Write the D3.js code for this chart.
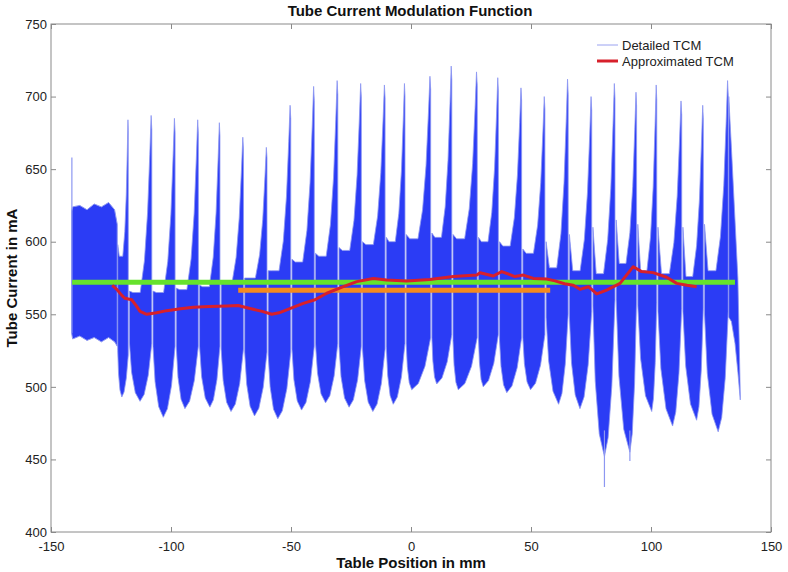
<!DOCTYPE html>
<html><head><meta charset="utf-8">
<script src="https://cdn.jsdelivr.net/npm/d3@7/dist/d3.min.js"></script>
<style>body{margin:0;background:#fff}svg{display:block}</style>
</head><body>
<svg id="c" width="788" height="572"></svg>
<script>
// ---------- data ----------
const xTicks = [-150, -100, -50, 0, 50, 100, 150];
const xTickLabels = ["-150", "-100", "-50", "0", "50", "100", "150"];
const yTicks = [400, 450, 500, 550, 600, 650, 700, 750];
const yTickLabels = ["400", "450", "500", "550", "600", "650", "700", "750"];

// Detailed TCM: initial dense band (envelope)
const headX     = [-141.4, -141.0, -138.0, -135.0, -132.0, -129.0, -126.0, -123.5, -122.4];
const headUpper = [621, 624, 625, 622, 626, 624, 627, 622, 612];
const headLower = [537, 533, 535, 532, 534, 531, 534, 531, 528];

// Detailed TCM: modulation lobes (one per rotation)
const lobeFirstStart = -122.2;
const peakX  = [-117.8, -108.0, -98.3, -88.6, -79.6, -69.8, -60.0, -50.1, -40.3, -30.5, -20.7, -10.8, -2.5, 8.2, 17.0, 27.6, 36.4, 46.1, 55.8, 65.5, 75.3, 85.0, 94.0, 102.4, 112.8, 121.8, 132.2];
const peakY  = [684, 687, 685, 684, 682, 672, 665, 694, 707, 711, 709, 708, 709, 714, 721, 717, 713, 706, 700, 712, 700, 709, 703, 708, 697, 694, 711];
const startUpper = [598, 566, 566, 568, 570, 572, 575, 580, 588, 592, 596, 600, 603, 605, 606, 605, 603, 600, 595, 600, 605, 610, 615, 612, 610, 610, 612];
const plateauY   = [590, 565, 565, 567, 569, 571, 575, 580, 586, 590, 594, 598, 600, 602, 603, 602, 600, 597, 592, 582, 580, 578, 585, 580, 578, 576, 580];
const troughX = [-120.5, -112.9, -103.2, -94.2, -83.8, -75.0, -65.2, -55.5, -45.6, -35.6, -25.8, -15.9, -7.4, 0.3, 10.7, 19.7, 30.1, 39.9, 49.8, 61.5, 70.4, 80.6, 91.2, 100.3, 109.0, 119.0, 128.0];
const troughY = [493, 490, 479, 485, 486, 483, 480, 478, 484, 489, 486, 483, 488, 498, 502, 498, 500, 496, 498, 488, 485, 452, 455, 483, 473, 477, 469];
const startLower = [525, 530, 528, 528, 528, 526, 524, 522, 526, 530, 528, 526, 528, 530, 534, 532, 534, 532, 534, 548, 548, 556, 560, 556, 552, 552, 550];
const endLower   = [522, 530, 528, 528, 528, 526, 524, 524, 528, 530, 528, 526, 530, 534, 536, 534, 536, 534, 536, 550, 552, 560, 560, 558, 554, 554, 552];

// Detailed TCM: final partial lobe
const tailX     = [132.4, 133.5, 135.0, 136.2, 137.2];
const tailUpper = [700, 665, 615, 575, 495];
const tailLower = [548, 545, 530, 510, 491];

// thin isolated excursions of the detailed TCM
const spikeX    = [-141.3, 80.6, 91.2];
const spikeLow  = [537, 431, 449];
const spikeHigh = [658, 470, 470];

// Approximated TCM (red)
const approxX = [-124.5, -122.5, -120.5, -119.2, -116.4, -114.5, -112.9, -110.1, -106.0, -101.8, -96.0, -90.7, -84.0, -76.8, -72.0, -67.1, -62.0, -58.0, -55.0, -51.8, -44.9, -40.0, -35.1, -28.2, -22.6, -15.7, -10.1, -1.8, 7.9, 17.6, 27.4, 28.8, 34.3, 37.8, 43.3, 46.8, 51.0, 56.5, 60.0, 64.0, 67.6, 70.4, 73.9, 77.4, 81.5, 87.1, 92.6, 96.1, 100.9, 106.5, 110.7, 115.0, 119.0];
const approxY = [570, 567, 563, 561, 560, 556, 552, 550, 551, 552.5, 553.8, 554.8, 555.3, 555.7, 556, 554, 552, 550, 551, 553, 557.5, 560, 564.5, 569, 572.5, 574.7, 573.6, 573, 574, 576, 577, 578.6, 576.4, 579.4, 576, 577, 574.7, 574.3, 573, 571, 570, 567.2, 569, 564, 566.7, 571.3, 582.8, 579.4, 578.7, 575.5, 571.3, 570, 569];

// constant reference levels
const greenX = [-141.2, 135.0];
const greenLevel = 572;
const orangeX = [-72.0, 58.0];
const orangeLevel = 566.5;

// ---------- drawing ----------
const W = 788, H = 572;
const svg = d3.select("#c");
const x = d3.scaleLinear().domain([-150, 150]).range([51, 771]);
const y = d3.scaleLinear().domain([400, 750]).range([532, 24]);
const font = "'Liberation Sans', Arial, Helvetica, sans-serif";

svg.append("rect").attr("width", W).attr("height", H).attr("fill", "#fff");

const plot = svg.append("g");
const BLUE = "#2b3cf5", FRINGE = "#8d97f1";

// head band
const area = d3.area().x(d => x(d[0])).y0(d => y(d[2])).y1(d => y(d[1]));
plot.append("path")
  .datum(headX.map((v, i) => [v, headUpper[i], headLower[i]]))
  .attr("d", area).attr("fill", BLUE).attr("stroke", FRINGE).attr("stroke-width", 1);

// lobes
const poly = d3.line().x(d => x(d[0])).y(d => y(d[1])).curve(d3.curveLinearClosed);
peakX.forEach((xp, k) => {
  const x0 = k === 0 ? lobeFirstStart : peakX[k - 1] + 0.5;
  const w = xp - x0;
  const pl = plateauY[k], pk = peakY[k];
  const tX = troughX[k], tY = troughY[k];
  const sL = startLower[k], eL = endLower[k];
  const pts = [
    [x0, startUpper[k]],
    [x0 + 0.15 * w, pl],
    [xp - 0.52 * w, pl],
    [xp - 0.33 * w, pl + 0.18 * (pk - pl)],
    [xp - 0.19 * w, pl + 0.45 * (pk - pl)],
    [xp - 0.09 * w, pl + 0.78 * (pk - pl)],
    [xp - 0.03 * w, pk],
    [xp, pk - 0.08 * (pk - pl)],
    [xp, eL],
    [tX + 0.7 * (xp - tX), tY + 0.45 * (eL - tY)],
    [tX + 0.35 * (xp - tX), tY + 0.12 * (eL - tY)],
    [tX, tY],
    [tX - 0.45 * (tX - x0), tY + 0.15 * (sL - tY)],
    [tX - 0.8 * (tX - x0), tY + 0.5 * (sL - tY)],
    [x0, sL]
  ];
  plot.append("path").datum(pts).attr("d", poly)
    .attr("fill", BLUE).attr("stroke", FRINGE).attr("stroke-width", 0.8)
    .attr("stroke-linejoin", "round");
});

// tail
plot.append("path")
  .datum(tailX.map((v, i) => [v, tailUpper[i], tailLower[i]]))
  .attr("d", area).attr("fill", BLUE).attr("stroke", FRINGE).attr("stroke-width", 0.8);

// thin spikes
spikeX.forEach((sx, i) => {
  plot.append("line")
    .attr("x1", x(sx)).attr("x2", x(sx))
    .attr("y1", y(spikeLow[i])).attr("y2", y(spikeHigh[i]))
    .attr("stroke", FRINGE).attr("stroke-width", 1.2);
});

// green and orange levels
const hline = d3.line().x(d => x(d[0])).y(d => y(d[1]));
plot.append("path").datum(greenX.map(v => [v, greenLevel])).attr("d", hline)
  .attr("stroke", "#66e22c").attr("stroke-width", 5).attr("fill", "none");
plot.append("path").datum(orangeX.map(v => [v, orangeLevel])).attr("d", hline)
  .attr("stroke", "#f58a1f").attr("stroke-width", 5).attr("fill", "none");

// approximated TCM
plot.append("path").datum(approxX.map((v, i) => [v, approxY[i]]))
  .attr("d", d3.line().x(d => x(d[0])).y(d => y(d[1])))
  .attr("stroke", "#d7202b").attr("stroke-width", 3).attr("fill", "none")
  .attr("stroke-linejoin", "round");

// ---------- axes ----------
const AX = "#8a8a8a";
function style(g, labels) {
  g.select(".domain").remove();
  g.selectAll(".tick line").attr("stroke", AX);
  g.selectAll(".tick text").attr("fill", "#222").style("font", "13px " + font);
  if (!labels) g.selectAll(".tick text").remove();
}
svg.append("g").attr("transform", `translate(0,${y(400)})`)
  .call(d3.axisBottom(x).tickValues(xTicks).tickFormat((d, i) => xTickLabels[i]).tickSizeInner(-5).tickSizeOuter(0).tickPadding(9.7))
  .call(g => style(g, true));
svg.append("g").attr("transform", `translate(0,${y(750)})`)
  .call(d3.axisTop(x).tickValues(xTicks).tickSizeInner(-5).tickSizeOuter(0))
  .call(g => style(g, false));
svg.append("g").attr("transform", `translate(${x(-150)},0)`)
  .call(d3.axisLeft(y).tickValues(yTicks).tickFormat((d, i) => yTickLabels[i]).tickSizeInner(-5).tickSizeOuter(0).tickPadding(4))
  .call(g => style(g, true));
svg.append("g").attr("transform", `translate(${x(150)},0)`)
  .call(d3.axisRight(y).tickValues(yTicks).tickSizeInner(-5).tickSizeOuter(0))
  .call(g => style(g, false));
svg.append("rect")
  .attr("x", x(-150)).attr("y", y(750))
  .attr("width", x(150) - x(-150)).attr("height", y(400) - y(750))
  .attr("fill", "none").attr("stroke", AX).attr("stroke-width", 1);

// ---------- titles ----------
svg.append("text").attr("x", 410).attr("y", 15.5).attr("text-anchor", "middle")
  .style("font", "bold 15px " + font).attr("fill", "#111").text("Tube Current Modulation Function");
svg.append("text").attr("x", 411).attr("y", 567.6).attr("text-anchor", "middle")
  .style("font", "bold 15px " + font).attr("fill", "#111").text("Table Position in mm");
svg.append("text").attr("transform", "translate(17,278) rotate(-90)").attr("text-anchor", "middle")
  .style("font", "bold 15px " + font).attr("fill", "#111").text("Tube Current in mA");

// ---------- legend ----------
const leg = svg.append("g");
const legItems = [
  { label: "Detailed TCM", color: "#9aa2f0", width: 1, y: 45 },
  { label: "Approximated TCM", color: "#d7202b", width: 3, y: 61 }
];
legItems.forEach(it => {
  leg.append("line").attr("x1", 597).attr("x2", 618).attr("y1", it.y).attr("y2", it.y)
    .attr("stroke", it.color).attr("stroke-width", it.width);
  leg.append("text").attr("x", 622).attr("y", it.y + 4.5)
    .style("font", "13px " + font).attr("fill", "#222").text(it.label);
});
</script>
</body></html>
